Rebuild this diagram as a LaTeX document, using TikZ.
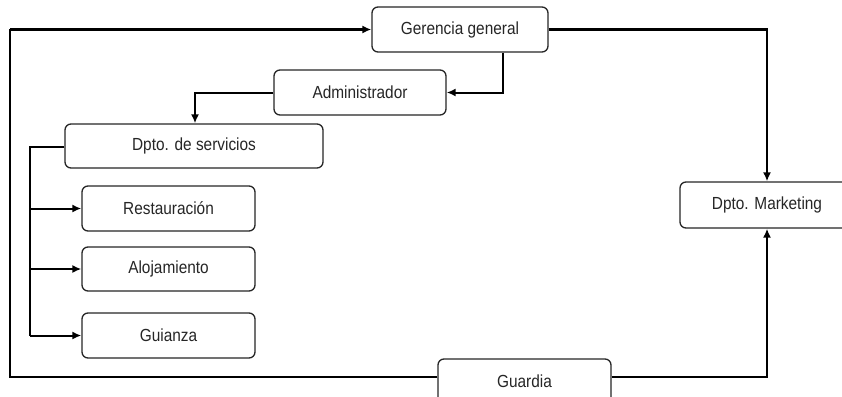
\documentclass[tikz,border=0pt]{standalone}
\usepackage{fontspec}
\setmainfont{Liberation Sans}[FakeStretch=0.88]
\usetikzlibrary{arrows.meta}
\begin{document}
\begin{tikzpicture}[x=1pt,y=-1pt,
  box/.style={draw=black!85,line width=1.3pt,rounded corners=6pt,fill=white,font=\fontsize{17.5}{20}\selectfont,text=black!85,inner sep=0pt},
  conn/.style={line width=2pt,-{Latex[length=9pt,width=8pt]}},
  plain/.style={line width=2pt},
  loop/.style={line width=2.8pt}]
\useasboundingbox (0,0) rectangle (842,396);
\begin{scope}
\clip (0,0) rectangle (842,396);
\node[box,minimum width=176pt,minimum height=45pt] (ger) at (460,29.5) {Gerencia general};
\node[box,minimum width=172pt,minimum height=45pt] (adm) at (360,92.5) {Administrador};
\node[box,minimum width=258pt,minimum height=44pt] (ser) at (194,146) {Dpto. de servicios};
\node[box,minimum width=173pt,minimum height=45pt] (res) at (168.5,208.5) {Restauración};
\node[box,minimum width=173pt,minimum height=44pt] (alo) at (168.5,269) {Alojamiento};
\node[box,minimum width=173pt,minimum height=45pt] (gui) at (168.5,335.5) {Guianza};
\node[box,minimum width=174pt,minimum height=46pt] (mkt) at (767,205) {Dpto. Marketing};
\node[box,minimum width=173pt,minimum height=45pt] (gua) at (524.5,381.5) {Guardia};
\end{scope}
\coordinate (lb) at (10,377);
\coordinate (lt) at (10,29.5);
\coordinate (sv) at (30,147);
\draw[loop] (gua.west |- lb) -- (lb) -- (lt);
\draw[conn,line width=2.6pt] (lt) -- (ger.west);
\draw[conn,line width=2.4pt] (ger.east) -| (mkt.north);
\draw[conn,line width=2.4pt] (gua.east |- lb) -| (mkt.south);
\draw[conn] (ger.south -| 503,0) |- (adm.east);
\draw[conn] (adm.west) -| (ser.north -| 195,0);
\draw[plain] (ser.west |- sv) -- (sv) -- (sv |- gui.west);
\draw[conn] (sv |- res.west) -- (res.west);
\draw[conn] (sv |- alo.west) -- (alo.west);
\draw[conn] (sv |- gui.west) -- (gui.west);
\end{tikzpicture}
\end{document}
